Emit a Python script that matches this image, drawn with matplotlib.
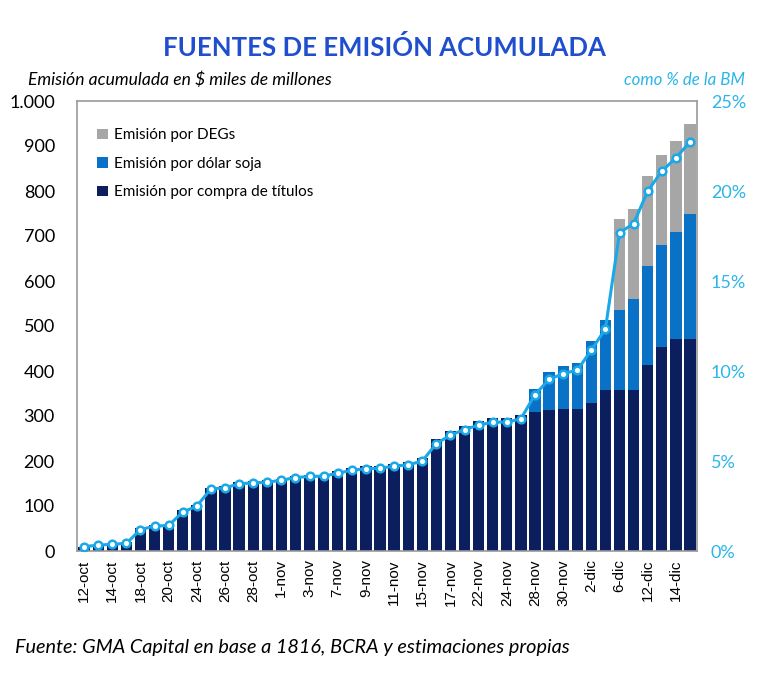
import numpy as np
import matplotlib
matplotlib.use('Agg')
import matplotlib.pyplot as plt
from matplotlib.ticker import FuncFormatter

fechas = ['12-oct', '13-oct', '14-oct', '17-oct', '18-oct', '19-oct', '20-oct', '21-oct',
          '24-oct', '25-oct', '26-oct', '27-oct', '28-oct', '31-oct', '1-nov', '2-nov',
          '3-nov', '4-nov', '7-nov', '8-nov', '9-nov', '10-nov', '11-nov', '14-nov',
          '15-nov', '16-nov', '17-nov', '18-nov', '22-nov', '23-nov', '24-nov', '25-nov',
          '28-nov', '29-nov', '30-nov', '1-dic', '2-dic', '5-dic', '6-dic', '7-dic',
          '12-dic', '13-dic', '14-dic', '15-dic']

# $ miles de millones
titulos = [8, 12, 16, 19, 52, 58, 58, 91, 103, 140, 144, 153, 155, 157, 160,
           166, 168, 168, 177, 185, 189, 190, 194, 198, 206, 248, 266, 277, 288, 295,
           296, 302, 309, 313, 316, 316, 328, 357, 357, 357, 414, 454, 471, 471]
soja = [0]*32 + [51, 84, 95, 102, 138, 157, 178, 202, 220, 225, 239, 277]
degs = [0]*38 + [203, 201, 200, 202, 202, 201]

# como % de la BM
pct_bm = [0.25, 0.32, 0.38, 0.42, 1.19, 1.38, 1.42, 2.16, 2.49, 3.45, 3.51, 3.73, 3.79, 3.82, 3.93,
          4.08, 4.14, 4.16, 4.32, 4.49, 4.57, 4.6, 4.71, 4.79, 4.99, 5.97, 6.43, 6.75, 6.99, 7.16,
          7.16, 7.34, 8.69, 9.53, 9.86, 10.04, 11.16, 12.34, 17.68, 18.19, 19.99, 21.1, 21.84, 22.73]

navy = '#0B1F5E'
azul = '#0A72C6'
gris = '#A6A6A6'
cyan = '#1BA8E8'

plt.rcParams['font.family'] = ['Lato', 'DejaVu Sans']

fig = plt.figure(figsize=(7.68, 6.95), dpi=100)
ax = fig.add_axes([77/768, 144/695, 620/768, 450/695])

x = np.arange(len(fechas))
titulos = np.array(titulos)
soja = np.array(soja)
degs = np.array(degs)

ax.bar(x, titulos, width=0.8, color=navy, label='Emisión por compra de títulos', zorder=2)
ax.bar(x, soja, width=0.8, bottom=titulos, color=azul, label='Emisión por dólar soja', zorder=2)
ax.bar(x, degs, width=0.8, bottom=titulos+soja, color=gris, label='Emisión por DEGs', zorder=2)

ax.set_xlim(-0.5, len(fechas)-0.5)
ax.set_ylim(0, 1000)
ax.set_yticks(np.arange(0, 1001, 100))
ax.yaxis.set_major_formatter(FuncFormatter(lambda v, p: f'{int(v):,}'.replace(',', '.')))
ax.tick_params(axis='y', length=0, labelsize=13, pad=16)
ax.set_xticks(x[::2])
ax.set_xticklabels(fechas[::2], rotation=90, fontsize=11, family='Liberation Sans')
ax.tick_params(axis='x', length=0, pad=6)
for s in ax.spines.values():
    s.set_color('#9A9A9A')
    s.set_linewidth(1.2)

ax2 = ax.twinx()
ax2.plot(x, pct_bm, color=cyan, lw=2.2, marker='o', ms=5.5, mfc='white', mec=cyan, mew=1.8, zorder=3)
ax2.set_ylim(0, 25)
ax2.set_yticks(np.arange(0, 26, 5))
ax2.yaxis.set_major_formatter(FuncFormatter(lambda v, p: f'{int(v)}%'))
ax2.tick_params(axis='y', length=0, labelsize=13, colors='#2BB5EA', pad=10)
for s in ax2.spines.values():
    s.set_visible(False)

h, l = ax.get_legend_handles_labels()
leg = ax.legend(h[::-1], l[::-1], loc='upper left', bbox_to_anchor=(0.01, 0.97), frameon=False,
                fontsize=11, handlelength=0.7, handleheight=0.7, handletextpad=0.4, labelspacing=0.95)

fig.text(0.5, 1 - 47/695, 'FUENTES DE EMISIÓN ACUMULADA', ha='center', va='center',
         fontsize=18.5, fontweight='bold', color='#1F4FCF')
fig.text(28/768, 1 - 80/695, 'Emisión acumulada en $ miles de millones', ha='left', va='center',
         fontsize=12.6, style='italic')
fig.text(745/768, 1 - 80/695, 'como % de la BM', ha='right', va='center',
         fontsize=12.2, style='italic', color='#2BB5EA')
fig.text(15/768, 1 - 648/695, 'Fuente: GMA Capital en base a 1816, BCRA y estimaciones propias',
         ha='left', va='center', fontsize=14.3, style='italic')

fig.savefig('out.png', dpi=100)
